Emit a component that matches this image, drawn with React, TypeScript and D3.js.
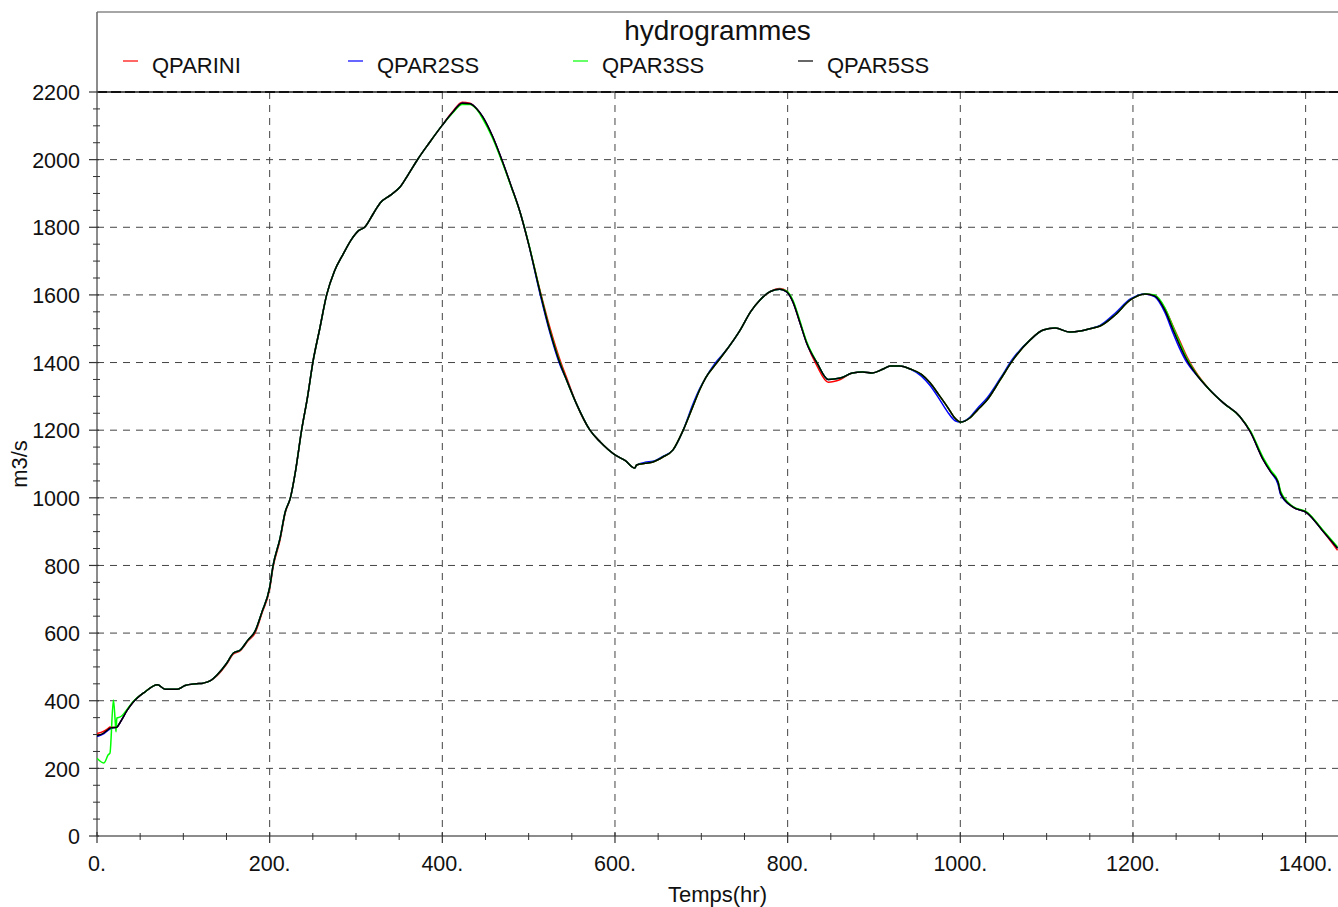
import { useRef, useEffect } from 'react';
import * as d3 from 'd3';

// hours (x) shared by every hydrogram
const hours = [
    0, 8, 13, 15, 19, 21, 22, 23, 27, 35,
    42, 55, 70, 79, 93, 102, 115, 123, 132, 139,
    150, 158, 166, 175, 183, 191, 200, 204, 212, 218,
    224, 230, 237, 244, 250, 258, 266, 275, 285, 295,
    303, 310, 320, 328, 340, 351, 361, 371, 385, 400,
    412, 423, 432, 440, 447, 458, 469, 480, 490, 500,
    513, 525, 536, 544, 555, 571, 583, 600, 612, 623,
    625, 635, 644, 655, 667, 679, 690, 698, 705, 716,
    730, 745, 757, 768, 780, 791, 799, 806, 814, 822,
    834, 847, 861, 875, 887, 898, 910, 919, 930, 942,
    955, 965, 975, 985, 994, 1000, 1011, 1020, 1031, 1046,
    1061, 1081, 1096, 1110, 1127, 1139, 1150, 1162, 1179, 1197,
    1214, 1225, 1237, 1246, 1254, 1263, 1272, 1289, 1305, 1324,
    1336, 1351, 1360, 1368, 1371, 1385, 1402, 1419, 1437
];

const qparini = [
    303, 310, 318, 322, 321, 321, 321, 322, 337, 372,
    396, 425, 447, 434, 434, 445, 450, 452, 460, 474,
    508, 538, 548, 577, 600, 658, 730, 795, 875, 955,
    1000, 1080, 1200, 1300, 1400, 1500, 1600, 1670, 1720, 1765,
    1790, 1800, 1840, 1872, 1895, 1919, 1958, 1999, 2050, 2102,
    2142, 2170, 2167, 2150, 2126, 2070, 1999, 1920, 1845, 1750,
    1615, 1500, 1410, 1355, 1280, 1200, 1165, 1127, 1110, 1088,
    1097, 1102, 1106, 1120, 1141, 1200, 1269, 1319, 1355, 1393,
    1440, 1496, 1550, 1585, 1610, 1619, 1611, 1580, 1520, 1458,
    1390, 1342, 1350, 1369, 1372, 1369, 1380, 1390, 1390, 1381,
    1365, 1340, 1305, 1269, 1235, 1224, 1236, 1260, 1289, 1348,
    1408, 1467, 1496, 1502, 1490, 1493, 1500, 1508, 1540, 1585,
    1603, 1597, 1560, 1510, 1465, 1415, 1375, 1319, 1280, 1240,
    1195, 1112, 1075, 1047, 1014, 973, 955, 905, 845
];

const qpar2ss = [
    294, 303, 313, 316, 320, 321, 321, 322, 337, 372,
    396, 425, 447, 434, 434, 445, 450, 452, 460, 476,
    510, 541, 550, 580, 605, 662, 735, 800, 880, 958,
    1000, 1080, 1200, 1300, 1400, 1500, 1600, 1670, 1720, 1765,
    1790, 1800, 1840, 1872, 1895, 1919, 1958, 1999, 2050, 2102,
    2140, 2167, 2165, 2150, 2126, 2070, 1999, 1920, 1845, 1750,
    1605, 1485, 1395, 1348, 1280, 1200, 1165, 1127, 1110, 1088,
    1097, 1105, 1108, 1122, 1141, 1200, 1275, 1322, 1355, 1398,
    1440, 1496, 1550, 1585, 1610, 1617, 1609, 1580, 1520, 1458,
    1399, 1350, 1354, 1369, 1372, 1369, 1380, 1390, 1390, 1381,
    1360, 1332, 1295, 1255, 1228, 1224, 1238, 1265, 1295, 1352,
    1412, 1467, 1496, 1502, 1490, 1493, 1500, 1510, 1545, 1588,
    1603, 1595, 1548, 1490, 1442, 1398, 1368, 1319, 1280, 1240,
    1195, 1112, 1075, 1040, 1010, 973, 955, 905, 851
];

const qpar3ss = [
    230, 216, 240, 245, 402, 343, 308, 349, 352, 375,
    398, 425, 447, 434, 434, 445, 450, 452, 460, 476,
    510, 541, 550, 580, 605, 662, 735, 800, 880, 958,
    1000, 1080, 1200, 1300, 1400, 1500, 1600, 1670, 1720, 1765,
    1790, 1800, 1840, 1872, 1895, 1919, 1958, 1999, 2050, 2102,
    2138, 2163, 2163, 2148, 2120, 2065, 1995, 1918, 1845, 1752,
    1612, 1492, 1402, 1348, 1280, 1200, 1165, 1127, 1110, 1088,
    1097, 1102, 1106, 1120, 1141, 1200, 1269, 1319, 1355, 1393,
    1440, 1496, 1550, 1585, 1610, 1617, 1611, 1585, 1525, 1462,
    1400, 1350, 1354, 1369, 1372, 1369, 1380, 1390, 1390, 1381,
    1365, 1340, 1305, 1269, 1235, 1224, 1236, 1260, 1289, 1348,
    1408, 1467, 1496, 1502, 1490, 1493, 1500, 1508, 1540, 1585,
    1603, 1600, 1562, 1508, 1460, 1410, 1372, 1319, 1280, 1240,
    1198, 1118, 1080, 1050, 1020, 975, 957, 908, 855
];

const qpar5ss = [
    296, 305, 315, 319, 321, 321, 321, 322, 337, 372,
    396, 425, 447, 434, 434, 445, 450, 452, 460, 476,
    510, 541, 550, 580, 605, 662, 735, 800, 880, 958,
    1000, 1080, 1200, 1300, 1400, 1500, 1600, 1670, 1720, 1765,
    1790, 1800, 1840, 1872, 1895, 1919, 1958, 1999, 2050, 2102,
    2140, 2167, 2165, 2150, 2126, 2070, 1999, 1920, 1845, 1750,
    1610, 1490, 1400, 1348, 1280, 1200, 1165, 1127, 1110, 1088,
    1097, 1102, 1106, 1120, 1141, 1200, 1269, 1319, 1355, 1393,
    1440, 1496, 1550, 1585, 1610, 1617, 1609, 1580, 1520, 1458,
    1399, 1350, 1354, 1369, 1372, 1369, 1380, 1390, 1390, 1381,
    1365, 1340, 1305, 1269, 1235, 1224, 1236, 1260, 1289, 1348,
    1408, 1467, 1496, 1502, 1490, 1493, 1500, 1508, 1540, 1585,
    1603, 1597, 1555, 1500, 1452, 1405, 1370, 1319, 1280, 1240,
    1195, 1112, 1075, 1047, 1014, 973, 955, 905, 851
];

const seriesNames = ['QPARINI', 'QPAR2SS', 'QPAR3SS', 'QPAR5SS'];
const seriesColors = ['#ff0000', '#0000ff', '#00ff00', '#000000'];
const seriesValues = [qparini, qpar2ss, qpar3ss, qpar5ss];

const xTicks = [0, 200, 400, 600, 800, 1000, 1200, 1400];
const xTickLabels = ['0.', '200.', '400.', '600.', '800.', '1000.', '1200.', '1400.'];
const yTicks = [0, 200, 400, 600, 800, 1000, 1200, 1400, 1600, 1800, 2000, 2200];

const title = 'hydrogrammes';
const xLabel = 'Temps(hr)';
const yLabel = 'm3/s';

const FONT = '"Liberation Sans", Arial, Helvetica, sans-serif';

const Hydrogrammes = () => {
    const svgRef = useRef<SVGSVGElement | null>(null);

    const renderChart = () => {
        const svgElement = svgRef.current;
        if (!svgElement) return;

        const width = 1338;
        const height = 907;
        const margin = { top: 92, right: 0, bottom: 71, left: 97 };
        const frameTop = 12;

        const svg = d3.select(svgElement)
            .attr('width', width)
            .attr('height', height);

        svg.selectAll('*').remove();

        svg.append('rect').attr('width', width).attr('height', height).attr('fill', '#fff');

        const x = d3.scaleLinear()
            .domain([0, 1437.5])
            .range([margin.left, width - margin.right]);

        const y = d3.scaleLinear()
            .domain([0, 2200])
            .range([height - margin.bottom, margin.top]);

        const bottom = height - margin.bottom;

        // frame
        svg.append('line')
            .attr('x1', margin.left).attr('x2', width)
            .attr('y1', frameTop).attr('y2', frameTop)
            .attr('stroke', '#888').attr('stroke-width', 1.5);

        // grid
        const grid = svg.append('g');
        grid.selectAll('.vgrid')
            .data(xTicks.filter(d => d > 0))
            .enter().append('line')
            .attr('x1', d => x(d)).attr('x2', d => x(d))
            .attr('y1', margin.top).attr('y2', bottom)
            .attr('stroke', '#444').attr('stroke-width', 1)
            .attr('stroke-dasharray', '7,6');

        grid.selectAll('.hgrid')
            .data(yTicks.filter(d => d > 0 && d < 2200))
            .enter().append('line')
            .attr('x1', margin.left).attr('x2', width)
            .attr('y1', d => y(d)).attr('y2', d => y(d))
            .attr('stroke', '#444').attr('stroke-width', 1)
            .attr('stroke-dasharray', '7,6');

        // top of plot (2200)
        svg.append('line')
            .attr('x1', margin.left).attr('x2', width)
            .attr('y1', y(2200)).attr('y2', y(2200))
            .attr('stroke', '#555').attr('stroke-width', 2);
        svg.append('line')
            .attr('x1', margin.left).attr('x2', width)
            .attr('y1', y(2200)).attr('y2', y(2200))
            .attr('stroke', '#111').attr('stroke-width', 2)
            .attr('stroke-dasharray', '10,4');

        // axes lines
        svg.append('line')
            .attr('x1', margin.left).attr('x2', margin.left)
            .attr('y1', frameTop).attr('y2', bottom)
            .attr('stroke', '#666').attr('stroke-width', 1.5);
        svg.append('line')
            .attr('x1', margin.left).attr('x2', width)
            .attr('y1', bottom).attr('y2', bottom)
            .attr('stroke', '#666').attr('stroke-width', 1.5);

        // x ticks
        const xMinor = d3.range(50, 1437, 50).filter(d => d % 200 !== 0);
        svg.append('g').selectAll('line')
            .data(xMinor)
            .enter().append('line')
            .attr('x1', d => x(d)).attr('x2', d => x(d))
            .attr('y1', bottom - 3).attr('y2', bottom + 4)
            .attr('stroke', '#333').attr('stroke-width', 1);
        svg.append('g').selectAll('line')
            .data(xTicks)
            .enter().append('line')
            .attr('x1', d => x(d)).attr('x2', d => x(d))
            .attr('y1', bottom - 4).attr('y2', bottom + 7)
            .attr('stroke', '#333').attr('stroke-width', 1.2);
        svg.append('g').selectAll('text')
            .data(xTicks)
            .enter().append('text')
            .attr('x', d => x(d))
            .attr('y', 871)
            .attr('text-anchor', 'middle')
            .style('font-family', FONT)
            .style('font-size', '21.5px')
            .style('fill', '#111')
            .text((d, i) => xTickLabels[i]);

        // y ticks
        const yMinor = d3.range(50, 2200, 50).filter(d => d % 200 !== 0);
        svg.append('g').selectAll('line')
            .data(yMinor)
            .enter().append('line')
            .attr('x1', margin.left - 4).attr('x2', margin.left + 3)
            .attr('y1', d => y(d)).attr('y2', d => y(d))
            .attr('stroke', '#333').attr('stroke-width', 1);
        svg.append('g').selectAll('line')
            .data(yTicks)
            .enter().append('line')
            .attr('x1', margin.left - 8).attr('x2', margin.left + 2)
            .attr('y1', d => y(d)).attr('y2', d => y(d))
            .attr('stroke', '#333').attr('stroke-width', 1.2);
        svg.append('g').selectAll('text')
            .data(yTicks)
            .enter().append('text')
            .attr('x', 80)
            .attr('y', d => y(d))
            .attr('dy', '0.38em')
            .attr('text-anchor', 'end')
            .style('font-family', FONT)
            .style('font-size', '21.5px')
            .style('fill', '#111')
            .text(d => String(d));

        // axis titles
        svg.append('text')
            .attr('x', (margin.left + width) / 2)
            .attr('y', 902)
            .attr('text-anchor', 'middle')
            .style('font-family', FONT)
            .style('font-size', '22px')
            .style('fill', '#111')
            .text(xLabel);

        svg.append('text')
            .attr('transform', `translate(27, ${(margin.top + bottom) / 2}) rotate(-90)`)
            .attr('text-anchor', 'middle')
            .style('font-family', FONT)
            .style('font-size', '22px')
            .style('fill', '#111')
            .text(yLabel);

        // title
        svg.append('text')
            .attr('x', (margin.left + width) / 2)
            .attr('y', 40)
            .attr('text-anchor', 'middle')
            .style('font-family', FONT)
            .style('font-size', '28px')
            .style('fill', '#111')
            .text(title);

        // legend
        const legend = svg.append('g').selectAll('g')
            .data(seriesNames)
            .enter().append('g')
            .attr('transform', (d, i) => `translate(${123 + i * 225}, 0)`);
        legend.append('line')
            .attr('x1', 0).attr('x2', 15)
            .attr('y1', 61).attr('y2', 61)
            .attr('stroke', (d, i) => seriesColors[i])
            .attr('stroke-width', 1.2);
        legend.append('text')
            .attr('x', 29)
            .attr('y', 73)
            .style('font-family', FONT)
            .style('font-size', '22px')
            .style('fill', '#111')
            .text(d => d);

        // clip
        svg.append('clipPath').attr('id', 'plot-clip')
            .append('rect')
            .attr('x', margin.left).attr('y', margin.top - 5)
            .attr('width', width - margin.left).attr('height', bottom - margin.top + 5);

        const line = d3.line<number>()
            .x((d, i) => x(hours[i]))
            .y(d => y(d))
            .curve(d3.curveMonotoneX);

        const lines = svg.append('g').attr('clip-path', 'url(#plot-clip)');
        seriesValues.forEach((vals, i) => {
            lines.append('path')
                .datum(vals)
                .attr('fill', 'none')
                .attr('stroke', seriesColors[i])
                .attr('stroke-width', 1.5)
                .attr('stroke-linejoin', 'round')
                .attr('d', line(vals) as string);
        });
    };

    useEffect(() => {
        renderChart();
    }, []);

    return (
        <div style={{ position: 'absolute', left: 0, top: 0, width: 1338, height: 907 }}>
            <svg ref={svgRef} style={{ display: 'block' }}></svg>
        </div>
    );
};

export default function App() {
    return <Hydrogrammes />;
}
